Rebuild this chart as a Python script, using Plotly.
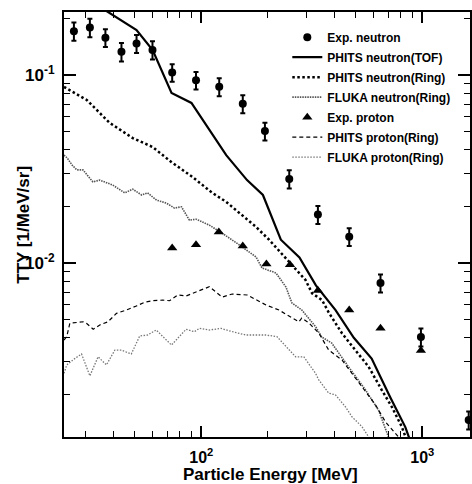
import plotly.graph_objects as go

# ---------------- data ----------------
exp_n_x = [26.5, 31.3, 36.8, 43.5, 50.9, 60.1, 73.8, 94.6, 120.5, 154, 194, 250, 337, 467, 647, 986, 1622]
exp_n_y = [0.171, 0.179, 0.158, 0.133, 0.147, 0.136, 0.103, 0.0937, 0.0867, 0.0703, 0.0503, 0.0280,
           0.0181, 0.0138, 0.00783, 0.00404, 0.00146]
exp_n_err = [0.019, 0.020, 0.017, 0.015, 0.016, 0.015, 0.011, 0.010, 0.0095, 0.0077, 0.0055, 0.0031,
             0.0020, 0.0015, 0.00086, 0.00044, 0.00016]

exp_p_x = [73.8, 94.6, 120, 154, 197, 252, 337, 467, 647, 986]
exp_p_y = [0.0120, 0.0125, 0.0146, 0.0123, 0.00988, 0.00980, 0.00713, 0.00562, 0.00450, 0.00342]

phits_tof_x = [24, 39.7, 50.9, 60.2, 73.3, 90.2, 108.7, 129.6, 161, 190, 229, 278, 330, 405, 490, 590, 715, 838, 885]
phits_tof_y = [0.303, 0.2085, 0.1735, 0.1358, 0.0802, 0.0710, 0.0510, 0.0375, 0.0276, 0.0230, 0.0133, 0.0107,
               0.0076, 0.00562, 0.0040, 0.0031, 0.00194, 0.00134, 0.00112]

phits_nring_x = [23.9, 30.3, 38.5, 48.9, 60.2, 73.3, 91.1, 112.1, 129.2, 137.9, 148.3, 161.2, 176.4, 202.5,
                 249.2, 296.2, 317.2, 351.9, 377.3, 433, 497.6, 571.3, 655.7, 727.3, 806.9, 835.8, 865]
phits_nring_y = [0.0864, 0.0736, 0.0556, 0.0462, 0.0414, 0.0344, 0.0287, 0.0236, 0.0212, 0.0199, 0.0184, 0.0169,
                 0.0156, 0.0133, 0.01016, 0.00812, 0.00690, 0.00635, 0.00545, 0.00423, 0.00344, 0.00281,
                 0.00211, 0.00172, 0.00135, 0.00119, 0.00108]

fluka_nring_x = [23.9, 24.7, 26.0, 27.3, 29.1, 32.3, 34.7, 39.7, 45.0, 48.9, 53.7, 57.1, 62.7, 69.6, 75.6, 81.3,
                 88.3, 94.9, 108.7, 124.3, 148.3, 176.9, 188.3, 217.7, 241.5, 257.0, 285.1, 329.6, 350.8,
                 389.2, 464.2, 553.7, 633.7, 702.8, 717.6]
fluka_nring_y = [0.0375, 0.0362, 0.0332, 0.0313, 0.0313, 0.0270, 0.0276, 0.0260, 0.0236, 0.0247, 0.0230, 0.0236,
                 0.0216, 0.0208, 0.0196, 0.0199, 0.0169, 0.0171, 0.0159, 0.0144, 0.0125, 0.01076, 0.00940,
                 0.00885, 0.00745, 0.00613, 0.00562, 0.00457, 0.00404, 0.00375, 0.00280, 0.00211, 0.00165,
                 0.00119, 0.00108]

phits_pring_x = [23.9, 24.6, 25.4, 26.8, 29.2, 30.2, 32.4, 34.7, 37.8, 41.3, 45.8, 50.8, 55.4, 60.3, 66.9, 71.8,
                 78.2, 85.3, 96.2, 108.7, 124.3, 137.9, 161.2, 196.3, 224.6, 257, 276.4, 285, 306.6, 340.1,
                 377.3, 433, 515, 614, 681, 779, 808]
phits_pring_y = [0.00389, 0.00406, 0.00478, 0.00481, 0.00487, 0.00478, 0.00444, 0.00468, 0.00487, 0.00540,
                 0.00562, 0.00591, 0.00618, 0.00630, 0.00635, 0.00630, 0.00676, 0.00668, 0.00704, 0.00748,
                 0.00659, 0.00684, 0.00676, 0.00598, 0.00562, 0.00510, 0.00486, 0.00510, 0.00480, 0.00424,
                 0.00344, 0.00305, 0.00233, 0.00176, 0.00143, 0.00119, 0.00108]

fluka_pring_x = [23.9, 24.6, 26.8, 28.7, 31.3, 34.1, 37.2, 40.6, 43.5, 48.2, 52.6, 57.1, 62.5, 68.1, 73.3, 78.2,
                 85.3, 93.0, 97.9, 108.7, 122.7, 138.4, 159, 195.6, 219.8, 267.1, 291.1, 328.6, 340.1, 377.3,
                 404.4, 448.6, 480.4, 532.9, 571.3, 583.2]
fluka_pring_y = [0.00259, 0.00287, 0.00311, 0.00328, 0.00251, 0.00317, 0.00287, 0.00344, 0.00344, 0.00328,
                 0.00409, 0.00414, 0.00440, 0.00398, 0.00366, 0.00398, 0.00444, 0.00431, 0.00449, 0.00440,
                 0.00449, 0.00431, 0.00414, 0.00414, 0.00406, 0.00317, 0.00317, 0.00259, 0.00239, 0.00203,
                 0.00199, 0.00172, 0.00152, 0.00135, 0.00119, 0.00108]

x_major = [100, 1000]
x_major_text = ["<b>10<sup>2</sup></b>", "<b>10<sup>3</sup></b>"]
x_minor = [30, 40, 50, 60, 70, 80, 90, 200, 300, 400, 500, 600, 700, 800, 900]
y_major = [0.01, 0.1]
y_major_text = ["<b>10<sup>-2</sup></b>", "<b>10<sup>-1</sup></b>"]
y_minor = [0.002, 0.003, 0.004, 0.005, 0.006, 0.007, 0.008, 0.009,
           0.02, 0.03, 0.04, 0.05, 0.06, 0.07, 0.08, 0.09, 0.2]

# ---------------- figure ----------------
fig = go.Figure()

fig.add_trace(go.Scatter(
    x=exp_n_x, y=exp_n_y, mode="markers", name="Exp. neutron", legendgroup="g1",
    marker=dict(symbol="circle", size=8, color="black"),
    error_y=dict(type="data", array=exp_n_err, color="black", thickness=2, width=2.5),
))
fig.add_trace(go.Scatter(
    x=phits_tof_x, y=phits_tof_y, mode="lines", name="PHITS neutron(TOF)", legendgroup="g2",
    line=dict(color="black", width=2.2),
))
fig.add_trace(go.Scatter(
    x=phits_nring_x, y=phits_nring_y, mode="lines", name="PHITS neutron(Ring)", legendgroup="g3",
    line=dict(color="black", width=2.5, dash="2.5px,2.5px"),
))
fig.add_trace(go.Scatter(
    x=fluka_nring_x, y=fluka_nring_y, mode="lines", name="FLUKA neutron(Ring)", legendgroup="g4",
    line=dict(color="#555555", width=1.6, dash="1.5px,1px"),
))
fig.add_trace(go.Scatter(
    x=exp_p_x, y=exp_p_y, mode="markers", name="Exp. proton", legendgroup="g5",
    marker=dict(symbol="triangle-up", size=9, color="black"),
))
fig.add_trace(go.Scatter(
    x=phits_pring_x, y=phits_pring_y, mode="lines", name="PHITS proton(Ring)", legendgroup="g6",
    line=dict(color="black", width=1.2, dash="4px,3px"),
))
fig.add_trace(go.Scatter(
    x=fluka_pring_x, y=fluka_pring_y, mode="lines", name="FLUKA proton(Ring)", legendgroup="g7",
    line=dict(color="#777777", width=1.3, dash="1.5px,1.5px"),
))

font_family = "Liberation Sans, Arial, Helvetica, sans-serif"

fig.update_layout(
    width=472, height=484,
    margin=dict(l=64, r=0, t=12, b=47),
    paper_bgcolor="white", plot_bgcolor="white",
    font=dict(family=font_family, color="black"),
    showlegend=True,
    legend=dict(
        x=0.55, y=0.975, xanchor="left", yanchor="top",
        bgcolor="rgba(0,0,0,0)", borderwidth=0,
        font=dict(size=12, family=font_family, color="black", weight="bold"),
        traceorder="grouped", tracegroupgap=1,
    ),
    xaxis=dict(
        type="log", range=[1.3784, 3.216],
        showgrid=False, zeroline=False,
        showline=True, linecolor="black", linewidth=2, mirror="ticks",
        ticks="inside", ticklen=11, tickwidth=1.5, tickcolor="black",
        tickmode="array", tickvals=x_major, ticktext=x_major_text,
        tickfont=dict(size=16, family=font_family, color="black"),
        ticklabelstandoff=5,
        minor=dict(ticks="inside", ticklen=6, tickwidth=1.2, tickcolor="black",
                   tickmode="array", tickvals=x_minor, showgrid=False),
    ),
    yaxis=dict(
        type="log", range=[-2.9255, -0.6649],
        showgrid=False, zeroline=False,
        showline=True, linecolor="black", linewidth=2, mirror="ticks",
        ticks="inside", ticklen=12, tickwidth=1.5, tickcolor="black",
        tickmode="array", tickvals=y_major, ticktext=y_major_text,
        tickfont=dict(size=17, family=font_family, color="black"),
        ticklabelstandoff=4,
        minor=dict(ticks="inside", ticklen=6, tickwidth=1.2, tickcolor="black",
                   tickmode="array", tickvals=y_minor, showgrid=False),
    ),
    annotations=[
        dict(text="<b>TTY [1/MeV/sr]</b>", xref="paper", yref="paper",
             x=-0.1005, y=0.5, xanchor="center", yanchor="middle", textangle=-90,
             showarrow=False, font=dict(size=17, family=font_family, color="black")),
        dict(text="<b>Particle Energy [MeV]</b>", xref="paper", yref="paper",
             x=0.5098, y=-0.0894, xanchor="center", yanchor="middle",
             showarrow=False, font=dict(size=17, family=font_family, color="black")),
    ],
)

fig.write_html(
    "out.html",
    config={"displayModeBar": False},
    post_script="document.body.style.margin='0px';document.body.style.overflow='hidden';",
)
